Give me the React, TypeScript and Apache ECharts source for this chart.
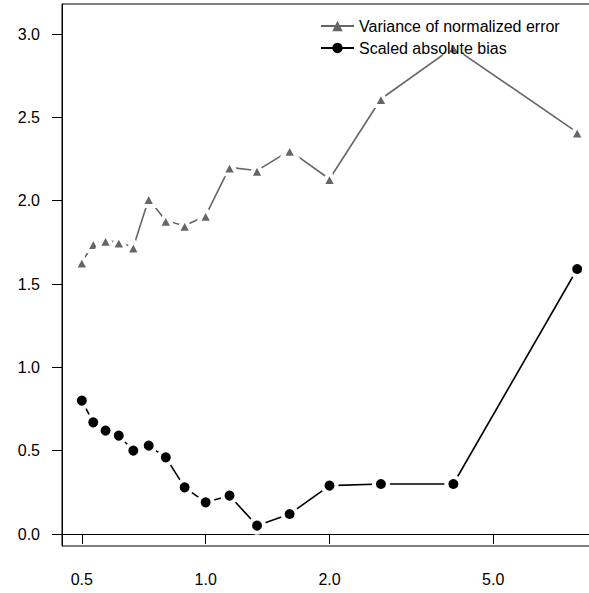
import React, { useEffect, useRef } from "react";
import * as echarts from "echarts";

const xValues = [0.5, 0.533, 0.571, 0.615, 0.667, 0.727, 0.8, 0.889, 1, 1.143, 1.333, 1.6, 2, 2.667, 4, 8];
const varianceValues = [1.63, 1.74, 1.76, 1.75, 1.72, 2.01, 1.88, 1.85, 1.91, 2.2, 2.18, 2.3, 2.13, 2.61, 2.92, 2.41];
const biasValues = [0.8, 0.67, 0.62, 0.59, 0.5, 0.53, 0.46, 0.28, 0.19, 0.23, 0.05, 0.12, 0.29, 0.3, 0.3, 1.59];
const xTicks = [0.5, 1, 2, 5];
const yTicks = [0, 0.5, 1, 1.5, 2, 2.5, 3];
const seriesNames = ["Variance of normalized error", "Scaled absolute bias"];

const FONT = "Liberation Sans, Arial, Helvetica, sans-serif";

export default function App() {
  const ref = useRef<HTMLDivElement>(null);
  useEffect(() => {
    document.body.style.margin = "0";
    const chart = echarts.init(ref.current!, null, { renderer: "svg" });
    chart.setOption({
      animation: false,
      textStyle: { fontFamily: FONT },
      grid: {
        left: 62,
        top: 4,
        width: 535,
        height: 542,
        outerBoundsMode: "none",
        containLabel: false,
        show: true,
        borderColor: "#000",
        borderWidth: 1,
        backgroundColor: "transparent",
      },
      legend: {
        orient: "vertical",
        left: 315,
        top: 13,
        itemWidth: 33,
        itemHeight: 13,
        itemGap: 6,
        textStyle: { fontSize: 16, color: "#000", fontFamily: FONT },
        itemStyle: { borderWidth: 0 },
        data: seriesNames,
      },
      xAxis: {
        type: "log",
        logBase: 10,
        min: 0.4475,
        max: 8.938,
        splitLine: { show: false },
        axisLine: { show: true, lineStyle: { color: "#000", width: 1 } },
        axisTick: { show: true, length: 10, customValues: xTicks, lineStyle: { color: "#000" } },
        axisLabel: {
          customValues: xTicks,
          margin: 25,
          fontSize: 16,
          color: "#000",
          fontFamily: FONT,
          formatter: (v: number) => Number(v).toFixed(1),
        },
        minorTick: { show: false },
      },
      yAxis: {
        type: "value",
        min: -0.072,
        max: 3.18,
        splitLine: { show: false },
        axisLine: { show: true, lineStyle: { color: "#000", width: 1 } },
        axisTick: { show: true, length: 10, customValues: yTicks, lineStyle: { color: "#000" } },
        axisLabel: {
          customValues: yTicks,
          margin: 22,
          fontSize: 16,
          color: "#000",
          fontFamily: FONT,
          formatter: (v: number) => Number(v).toFixed(1),
        },
      },
      series: [
        {
          type: "line",
          name: seriesNames[0],
          data: xValues.map((x, i) => [x, varianceValues[i]]),
          symbol: "triangle",
          symbolSize: [15, 14],
          lineStyle: { color: "#666666", width: 1.6 },
          itemStyle: { color: "#666666", borderColor: "#fff", borderWidth: 4 },
          z: 2,
        },
        {
          type: "line",
          name: seriesNames[1],
          data: xValues.map((x, i) => [x, biasValues[i]]),
          symbol: "circle",
          symbolSize: 14,
          lineStyle: { color: "#000", width: 1.6 },
          itemStyle: { color: "#000", borderColor: "#fff", borderWidth: 4 },
          z: 3,
        },
      ],
    });
    return () => chart.dispose();
  }, []);
  return <div ref={ref} style={{ width: 589, height: 593 }} />;
}
